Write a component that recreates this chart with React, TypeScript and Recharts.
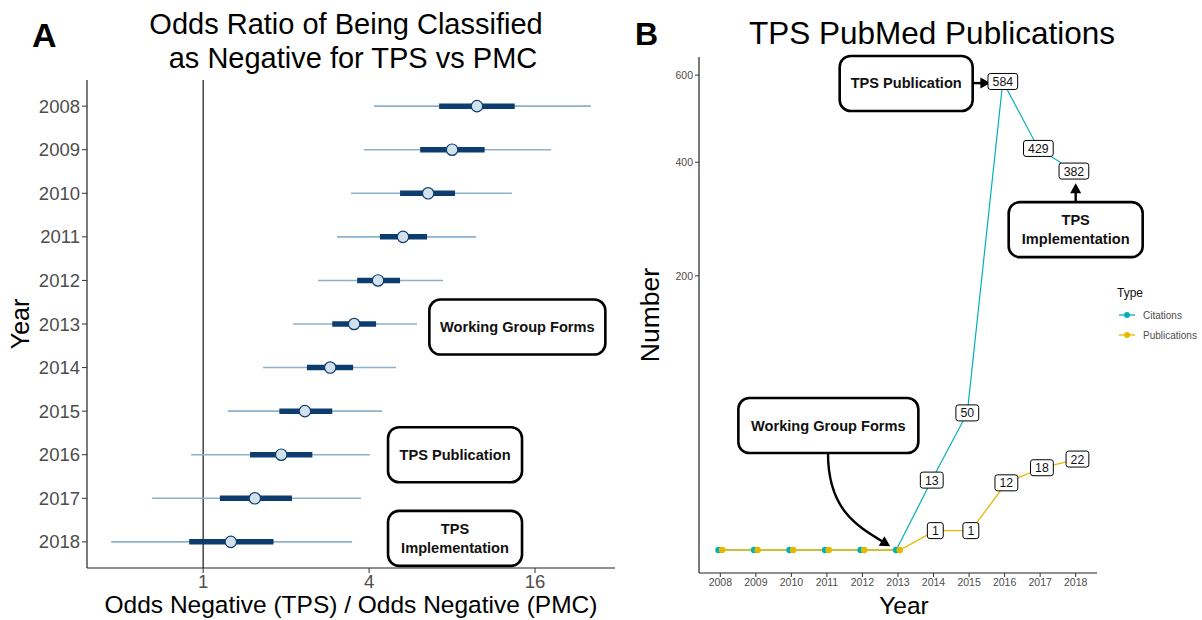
import React from "react";
import { ScatterChart, Scatter, XAxis, YAxis, ErrorBar, ReferenceDot, ReferenceLine, Legend } from "recharts";

const FONT = '"Liberation Sans", Arial, Helvetica, sans-serif';
const NAVY = "#0D3C6E";
const STEEL = "#8DB1CB";
const POINT_FILL = "#D3E1EC";
const CYAN = "#00AFBB";
const GOLD = "#E7B800";
const TICK_GREY = "#4D4D4D";

// Panel A: odds ratio per year with inner (thick) and outer (thin) intervals
const years = [2008, 2009, 2010, 2011, 2012, 2013, 2014, 2015, 2016, 2017, 2018];
const oddsRatio = [9.85, 8.0, 6.55, 5.31, 4.31, 3.53, 2.89, 2.34, 1.92, 1.54, 1.26];
const innerLow = [7.18, 6.13, 5.18, 4.38, 3.62, 2.94, 2.38, 1.89, 1.48, 1.15, 0.89];
const innerHigh = [13.5, 10.5, 8.2, 6.49, 5.18, 4.24, 3.5, 2.94, 2.49, 2.1, 1.8];
const outerLow = [4.17, 3.83, 3.44, 3.06, 2.61, 2.12, 1.65, 1.23, 0.905, 0.653, 0.464];
const outerHigh = [25.5, 18.3, 13.2, 9.78, 7.42, 5.97, 5.01, 4.46, 4.03, 3.74, 3.47];
const orTicks = [1, 4, 16];

// Panel B: PubMed counts
const citations = [0, 0, 0, 0, 0, 0, 13, 50, 584, 429, 382];
const publications = [0, 0, 0, 0, 0, 0, 1, 1, 12, 18, 22];
const countTicks = [200, 400, 600];
const firstLabelledYear = 2014;

const forestData = years.map((year, i) => ({
  year,
  or: oddsRatio[i],
  inner: [oddsRatio[i] - innerLow[i], innerHigh[i] - oddsRatio[i]],
  outer: [oddsRatio[i] - outerLow[i], outerHigh[i] - oddsRatio[i]],
}));

const citeData = years.map((year, i) => ({ year, x: year - 0.05, value: citations[i] }));
const pubData = years.map((year, i) => ({ year, x: year + 0.05, value: publications[i] }));

const notesA = [
  { lines: ["Working Group Forms"], or: 13.8, year: 2013.07, w: 176 },
  { lines: ["TPS Publication"], or: 8.2, year: 2016, w: 134 },
  { lines: ["TPS", "Implementation"], or: 8.2, year: 2017.92, w: 134 },
];

const notesB = [
  { lines: ["TPS Publication"], x: 2013.23, y: 579, w: 133 },
  { lines: ["TPS", "Implementation"], x: 2018.0, y: 273, w: 134 },
  { lines: ["Working Group Forms"], x: 2011.04, y: 41.2, w: 180 },
];

const NoteBox = ({ cx, cy, w, lines }: any) => (
  <g>
    <rect x={cx - w / 2} y={cy - 27.5} width={w} height={55} rx={11} fill="#fff" stroke="#000" strokeWidth={2.6} />
    {lines.map((t: string, i: number) => (
      <text
        key={t}
        x={cx}
        y={cy + (i - (lines.length - 1) / 2) * 19}
        textAnchor="middle"
        dominantBaseline="central"
        fontSize={14.6}
        fontWeight="bold"
        fontFamily={FONT}
        fill="#111"
      >
        {t}
      </text>
    ))}
  </g>
);

const arrowHead = (x: number, y: number, angle: number) => {
  const len = 10;
  const half = 5.5;
  const bx = x - len * Math.cos(angle);
  const by = y - len * Math.sin(angle);
  const px = -Math.sin(angle) * half;
  const py = Math.cos(angle) * half;
  return `${x},${y} ${bx + px},${by + py} ${bx - px},${by - py}`;
};

const StraightArrow = ({ x1, y1, x2, y2 }: any) => {
  const a = Math.atan2(y2 - y1, x2 - x1);
  return (
    <g>
      <line x1={x1} y1={y1} x2={x2 - 8 * Math.cos(a)} y2={y2 - 8 * Math.sin(a)} stroke="#000" strokeWidth={2.4} />
      <polygon points={arrowHead(x2, y2, a)} fill="#000" />
    </g>
  );
};

const CurvedArrow = ({ x1, y1, x2, y2 }: any) => {
  const dx = x2 - x1;
  const dy = y2 - y1;
  const c1x = x1;
  const c1y = y1 + 0.6 * dy;
  const c2x = x1 + 0.45 * dx;
  const c2y = y1 + 0.78 * dy;
  const a = Math.atan2(y2 - c2y, x2 - c2x);
  const ex = x2 - 8 * Math.cos(a);
  const ey = y2 - 8 * Math.sin(a);
  return (
    <g>
      <path d={`M${x1},${y1} C${c1x},${c1y} ${c2x},${c2y} ${ex},${ey}`} fill="none" stroke="#000" strokeWidth={2.4} />
      <polygon points={arrowHead(x2, y2, a)} fill="#000" />
    </g>
  );
};

const countShape = (color: string) => (props: any) => {
  const { cx, cy, payload } = props;
  if (payload.year < firstLabelledYear) {
    return <circle cx={cx} cy={cy} r={3.3} fill={color} />;
  }
  const txt = String(payload.value);
  const w = txt.length * 6.9 + 9;
  return (
    <g>
      <rect x={cx - w / 2} y={cy - 8} width={w} height={16} rx={2.5} fill="#fff" stroke="#000" strokeWidth={1} />
      <text x={cx} y={cy + 0.5} textAnchor="middle" dominantBaseline="central" fontSize={12.3} fontFamily={FONT} fill="#111">
        {txt}
      </text>
    </g>
  );
};

const TypeLegend = ({ payload }: any) => {
  const seen = new Set<string>();
  const items = (payload || []).filter((e: any) => {
    if (e.type === "none" || seen.has(e.value)) return false;
    seen.add(e.value);
    return true;
  });
  return (
    <div style={{ fontFamily: FONT }}>
      <div style={{ fontSize: 12, lineHeight: "14px", color: "#111", marginBottom: 5 }}>Type</div>
      {items.map((e: any) => (
        <div key={e.value} style={{ display: "flex", alignItems: "center", height: 20, fontSize: 10, color: TICK_GREY }}>
          <svg width={20} height={8}>
            <line x1={2} y1={4} x2={18} y2={4} stroke={e.color} strokeWidth={1.3} />
            <circle cx={10} cy={4} r={3} fill={e.color} />
          </svg>
          <span style={{ marginLeft: 6 }}>{e.value}</span>
        </div>
      ))}
    </div>
  );
};

const noShape = () => <g />;

export default function App() {
  return (
    <div style={{ position: "absolute", left: 0, top: 0, width: 1202, height: 620, background: "#fff", fontFamily: FONT }}>
      <svg width={1202} height={620} style={{ position: "absolute", left: 0, top: 0 }}>
        <text x={32} y={47} fontSize={34} fontWeight="bold" fontFamily={FONT} fill="#000">A</text>
        <text x={346} y={34} fontSize={29} textAnchor="middle" fontFamily={FONT} fill="#000">Odds Ratio of Being Classified</text>
        <text x={353} y={68} fontSize={29} textAnchor="middle" fontFamily={FONT} fill="#000">as Negative for TPS vs PMC</text>
        <text x={635} y={45} fontSize={32} fontWeight="bold" fontFamily={FONT} fill="#000">B</text>
        <text x={932} y={44} fontSize={31.5} textAnchor="middle" fontFamily={FONT} fill="#000">TPS PubMed Publications</text>
      </svg>

      <div style={{ position: "absolute", left: 0, top: 0 }}>
        <ScatterChart width={620} height={620} margin={{ top: 80, right: 5, bottom: 0, left: 0 }}>
          <XAxis
            type="number"
            dataKey="or"
            scale="log"
            domain={[0.379, 31.2]}
            allowDataOverflow
            ticks={orTicks}
            height={52}
            tickSize={5}
            tickMargin={2}
            tick={{ fontSize: 18.5, fill: TICK_GREY, fontFamily: FONT }}
            axisLine={{ stroke: "#222", strokeWidth: 1.2 }}
            tickLine={{ stroke: "#333" }}
            label={(p: any) => (
              <text
                x={p.viewBox.x + p.viewBox.width / 2}
                y={604}
                textAnchor="middle"
                dominantBaseline="central"
                fontSize={24.5}
                fontFamily={FONT}
                fill="#000"
              >
                Odds Negative (TPS) / Odds Negative (PMC)
              </text>
            )}
          />
          <YAxis
            type="number"
            dataKey="year"
            domain={[2007.4, 2018.6]}
            reversed
            ticks={years}
            interval={0}
            width={87}
            tickSize={5}
            tickMargin={2}
            tick={{ fontSize: 18.5, fill: TICK_GREY, fontFamily: FONT }}
            axisLine={{ stroke: "#222", strokeWidth: 1.2 }}
            tickLine={{ stroke: "#333" }}
            label={(p: any) => (
              <text
                x={20}
                y={p.viewBox.y + p.viewBox.height / 2}
                transform={`rotate(-90 20 ${p.viewBox.y + p.viewBox.height / 2})`}
                textAnchor="middle"
                dominantBaseline="central"
                fontSize={25}
                fontFamily={FONT}
                fill="#000"
              >
                Year
              </text>
            )}
          />
          <ReferenceLine x={1} stroke="#000" strokeWidth={1.1} />
          <Scatter
            data={forestData}
            isAnimationActive={false}
            shape={(p: any) => <circle cx={p.cx} cy={p.cy} r={5.7} fill={POINT_FILL} stroke={NAVY} strokeWidth={1.2} />}
          >
            <ErrorBar dataKey="outer" direction="x" width={0} stroke={STEEL} strokeWidth={1.6} />
            <ErrorBar dataKey="inner" direction="x" width={0} stroke={NAVY} strokeWidth={5.5} />
          </Scatter>
          {notesA.map((n) => (
            <ReferenceDot
              key={n.lines.join(" ")}
              x={n.or}
              y={n.year}
              ifOverflow="visible"
              shape={(p: any) => <NoteBox cx={p.cx} cy={p.cy} w={n.w} lines={n.lines} />}
            />
          ))}
        </ScatterChart>
      </div>

      <div style={{ position: "absolute", left: 600, top: 0 }}>
        <ScatterChart width={602} height={620} margin={{ top: 57, right: 105, bottom: 0, left: 0 }}>
          <XAxis
            type="number"
            dataKey="x"
            domain={[2007.4, 2018.6]}
            allowDataOverflow
            ticks={years}
            interval={0}
            height={47}
            tickSize={4}
            tickMargin={2}
            tick={{ fontSize: 10.5, fill: TICK_GREY, fontFamily: FONT }}
            axisLine={{ stroke: "#222", strokeWidth: 1.2 }}
            tickLine={{ stroke: "#333" }}
            label={(p: any) => (
              <text
                x={p.viewBox.x + p.viewBox.width / 2 + 6}
                y={605}
                textAnchor="middle"
                dominantBaseline="central"
                fontSize={24.5}
                fontFamily={FONT}
                fill="#000"
              >
                Year
              </text>
            )}
          />
          <YAxis
            type="number"
            dataKey="value"
            scale="sqrt"
            domain={[-1.407, 646.6]}
            allowDataOverflow
            ticks={countTicks}
            width={99}
            tickSize={4}
            tickMargin={2}
            tick={{ fontSize: 10.5, fill: TICK_GREY, fontFamily: FONT }}
            axisLine={{ stroke: "#222", strokeWidth: 1.2 }}
            tickLine={{ stroke: "#333" }}
            label={(p: any) => (
              <text
                x={50}
                y={p.viewBox.y + p.viewBox.height / 2}
                transform={`rotate(-90 50 ${p.viewBox.y + p.viewBox.height / 2})`}
                textAnchor="middle"
                dominantBaseline="central"
                fontSize={26.5}
                fontFamily={FONT}
                fill="#000"
              >
                Number
              </text>
            )}
          />
          <Legend
            layout="vertical"
            align="center"
            verticalAlign="middle"
            wrapperStyle={{ left: 517, top: 286, width: 90 }}
            content={<TypeLegend />}
          />
          <Scatter data={citeData} name="Citations" legendType="none" isAnimationActive={false} line={{ stroke: CYAN, strokeWidth: 1.2 }} lineType="joint" shape={noShape} />
          <Scatter data={pubData} name="Publications" legendType="none" isAnimationActive={false} line={{ stroke: GOLD, strokeWidth: 1.3 }} lineType="joint" shape={noShape} />
          <Scatter data={citeData} name="Citations" fill={CYAN} isAnimationActive={false} shape={countShape(CYAN)} />
          <Scatter data={pubData} name="Publications" fill={GOLD} isAnimationActive={false} shape={countShape(GOLD)} />
          {notesB.map((n) => (
            <ReferenceDot
              key={n.lines.join(" ")}
              x={n.x}
              y={n.y}
              ifOverflow="visible"
              shape={(p: any) => <NoteBox cx={p.cx} cy={p.cy} w={n.w} lines={n.lines} />}
            />
          ))}
          <ReferenceLine
            segment={[{ x: 2015.12, y: 580 }, { x: 2015.6, y: 580 }]}
            ifOverflow="visible"
            shape={(p: any) => <StraightArrow {...p} />}
          />
          <ReferenceLine
            segment={[{ x: 2018.0, y: 322 }, { x: 2018.0, y: 358 }]}
            ifOverflow="visible"
            shape={(p: any) => <StraightArrow {...p} />}
          />
          <ReferenceLine
            segment={[{ x: 2011.03, y: 25 }, { x: 2012.78, y: 0.04 }]}
            ifOverflow="visible"
            shape={(p: any) => <CurvedArrow {...p} />}
          />
        </ScatterChart>
      </div>
    </div>
  );
}
